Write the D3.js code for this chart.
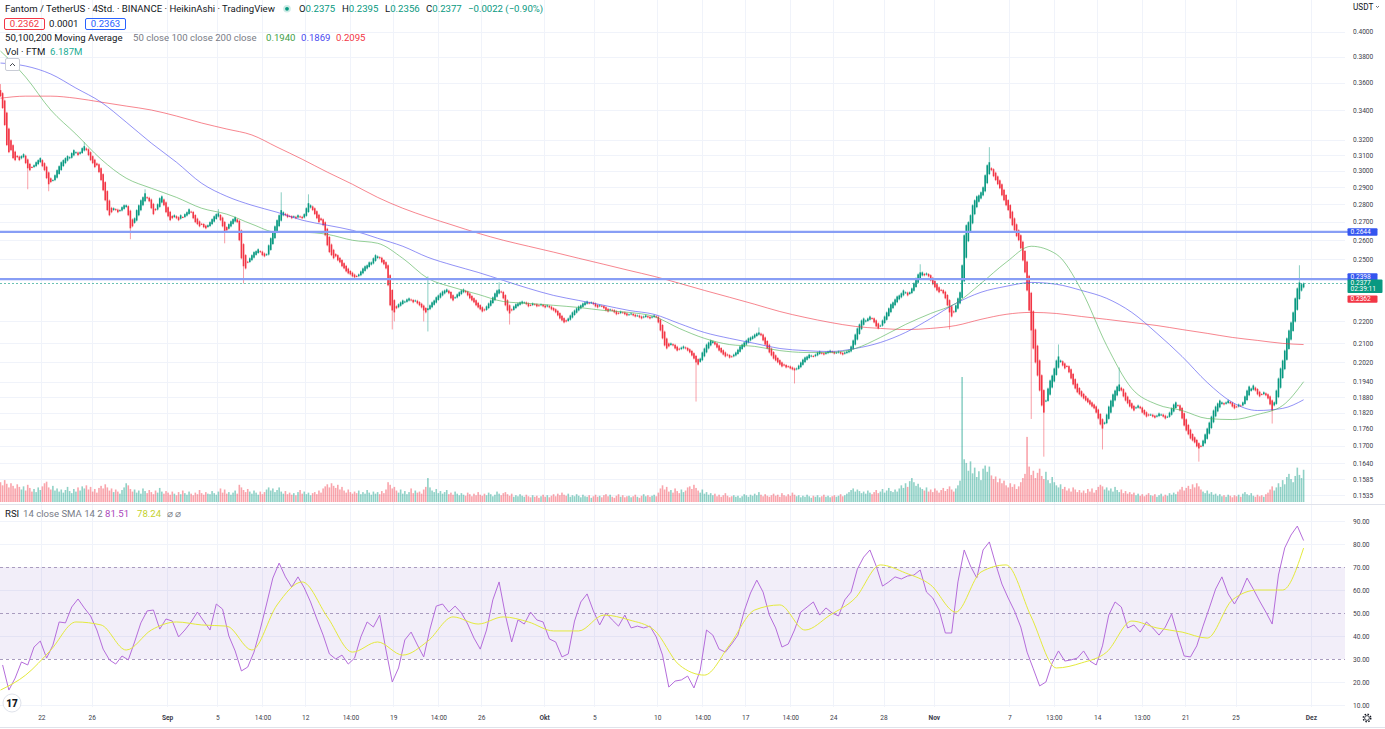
<!DOCTYPE html>
<html>
<head>
<meta charset="utf-8">
<script src="https://cdn.jsdelivr.net/npm/d3@7"></script>
<style>
	body { margin: 0; background: #fff; }
	svg { display: block; font-family: Roboto, "Noto Sans", sans-serif; }
</style>
</head>
<body>
<div id="chart"></div>
<script>
/* Heikin Ashi closes, one per 4h candle, first candle Aug 18 18:00 */
var firstOpen = 0.3545;
var closes = [
	0.3501,0.3416,0.3298,0.3164,0.3118,0.3131,0.3080,0.3067,0.3086,0.3067,
	0.3093,0.3105,0.3048,0.3016,0.3004,0.3023,0.3035,0.3054,0.3067,0.3080,
	0.3029,0.3004,0.2955,0.2918,0.2931,0.2943,0.2973,0.3004,0.3029,0.3054,
	0.3067,0.3080,0.3093,0.3086,0.3112,0.3131,0.3118,0.3099,0.3118,0.3144,
	0.3157,0.3131,0.3099,0.3067,0.3048,0.3023,0.3035,0.2992,0.2943,0.2882,
	0.2823,0.2766,0.2737,0.2754,0.2777,0.2766,0.2754,0.2766,0.2783,0.2794,
	0.2794,0.2737,0.2664,0.2675,0.2720,0.2766,0.2794,0.2823,0.2841,0.2864,
	0.2835,0.2817,0.2777,0.2743,0.2766,0.2800,0.2835,0.2846,0.2794,0.2754,
	0.2731,0.2709,0.2720,0.2737,0.2720,0.2709,0.2737,0.2726,0.2743,0.2754,
	0.2771,0.2754,0.2720,0.2698,0.2687,0.2675,0.2687,0.2670,0.2664,0.2681,
	0.2698,0.2715,0.2731,0.2743,0.2748,0.2709,0.2675,0.2642,0.2653,0.2687,
	0.2703,0.2715,0.2726,0.2698,0.2599,0.2504,0.2463,0.2452,0.2483,0.2504,
	0.2520,0.2536,0.2541,0.2551,0.2536,0.2520,0.2514,0.2525,0.2572,0.2610,
	0.2642,0.2675,0.2709,0.2737,0.2766,0.2754,0.2737,0.2726,0.2731,0.2720,
	0.2731,0.2720,0.2737,0.2726,0.2720,0.2743,0.2777,0.2806,0.2794,0.2766,
	0.2743,0.2720,0.2698,0.2709,0.2681,0.2626,0.2572,0.2536,0.2520,0.2504,
	0.2514,0.2493,0.2483,0.2463,0.2452,0.2437,0.2427,0.2422,0.2412,0.2407,
	0.2412,0.2422,0.2437,0.2452,0.2463,0.2468,0.2483,0.2483,0.2504,0.2520,
	0.2514,0.2504,0.2483,0.2473,0.2452,0.2368,0.2272,0.2248,0.2239,0.2258,
	0.2277,0.2286,0.2295,0.2290,0.2300,0.2305,0.2295,0.2286,0.2295,0.2281,
	0.2272,0.2262,0.2248,0.2239,0.2258,0.2272,0.2286,0.2295,0.2310,0.2319,
	0.2329,0.2338,0.2343,0.2348,0.2329,0.2305,0.2295,0.2310,0.2324,0.2334,
	0.2343,0.2348,0.2334,0.2319,0.2305,0.2295,0.2286,0.2272,0.2262,0.2253,
	0.2243,0.2248,0.2267,0.2281,0.2295,0.2310,0.2329,0.2343,0.2348,0.2334,
	0.2305,0.2272,0.2248,0.2234,0.2248,0.2267,0.2277,0.2281,0.2286,0.2290,
	0.2286,0.2277,0.2267,0.2272,0.2281,0.2277,0.2267,0.2272,0.2277,0.2267,
	0.2262,0.2272,0.2262,0.2253,0.2248,0.2239,0.2225,0.2211,0.2202,0.2193,
	0.2197,0.2211,0.2225,0.2239,0.2248,0.2258,0.2267,0.2272,0.2281,0.2286,
	0.2290,0.2281,0.2286,0.2277,0.2267,0.2262,0.2272,0.2267,0.2258,0.2248,
	0.2243,0.2253,0.2248,0.2239,0.2230,0.2234,0.2243,0.2239,0.2230,0.2225,
	0.2230,0.2234,0.2225,0.2220,0.2225,0.2216,0.2211,0.2220,0.2225,0.2216,
	0.2211,0.2220,0.2225,0.2216,0.2193,0.2157,0.2122,0.2091,0.2078,0.2087,
	0.2100,0.2091,0.2078,0.2069,0.2073,0.2082,0.2087,0.2078,0.2069,0.2061,
	0.2048,0.2035,0.2019,0.2010,0.2035,0.2061,0.2078,0.2095,0.2104,0.2113,
	0.2109,0.2095,0.2082,0.2069,0.2061,0.2052,0.2044,0.2048,0.2039,0.2044,
	0.2052,0.2061,0.2073,0.2087,0.2095,0.2104,0.2113,0.2122,0.2126,0.2131,
	0.2139,0.2144,0.2148,0.2135,0.2113,0.2095,0.2078,0.2061,0.2048,0.2035,
	0.2027,0.2019,0.2010,0.2002,0.2006,0.1998,0.2002,0.1994,0.1990,0.1986,
	0.1994,0.2006,0.2019,0.2031,0.2040,0.2044,0.2052,0.2048,0.2044,0.2052,
	0.2061,0.2065,0.2056,0.2052,0.2061,0.2065,0.2069,0.2061,0.2056,0.2061,
	0.2065,0.2056,0.2052,0.2061,0.2065,0.2069,0.2087,0.2113,0.2139,0.2166,
	0.2184,0.2202,0.2211,0.2202,0.2211,0.2220,0.2211,0.2193,0.2175,0.2166,
	0.2179,0.2202,0.2220,0.2239,0.2258,0.2277,0.2286,0.2300,0.2314,0.2319,
	0.2329,0.2343,0.2334,0.2319,0.2334,0.2353,0.2378,0.2402,0.2422,0.2432,
	0.2432,0.2417,0.2427,0.2412,0.2392,0.2373,0.2358,0.2343,0.2334,0.2343,
	0.2329,0.2305,0.2272,0.2239,0.2220,0.2239,0.2272,0.2305,0.2334,0.2468,
	0.2626,0.2681,0.2698,0.2737,0.2794,0.2823,0.2846,0.2852,0.2870,0.2900,
	0.2973,0.3035,0.3054,0.3004,0.2967,0.2943,0.2918,0.2894,0.2852,0.2823,
	0.2794,0.2766,0.2720,0.2681,0.2653,0.2621,0.2599,0.2556,0.2493,0.2432,
	0.2343,0.2248,0.2157,0.2078,0.2019,0.1965,0.1905,0.1847,0.1820,0.1866,
	0.1913,0.1945,0.1965,0.1994,0.2027,0.2044,0.2027,0.2006,0.1994,0.2002,
	0.1978,0.1953,0.1929,0.1913,0.1898,0.1890,0.1882,0.1874,0.1866,0.1859,
	0.1851,0.1843,0.1836,0.1820,0.1798,0.1776,0.1761,0.1783,0.1813,0.1843,
	0.1866,0.1890,0.1905,0.1921,0.1929,0.1905,0.1882,0.1866,0.1855,0.1843,
	0.1836,0.1828,0.1840,0.1847,0.1836,0.1820,0.1813,0.1805,0.1809,0.1813,
	0.1805,0.1801,0.1809,0.1817,0.1813,0.1805,0.1798,0.1805,0.1820,0.1836,
	0.1851,0.1859,0.1847,0.1828,0.1798,0.1772,0.1754,0.1740,0.1725,0.1718,
	0.1711,0.1697,0.1690,0.1697,0.1718,0.1740,0.1761,0.1783,0.1805,0.1828,
	0.1843,0.1855,0.1866,0.1859,0.1851,0.1859,0.1866,0.1855,0.1843,0.1836,
	0.1843,0.1851,0.1847,0.1859,0.1882,0.1905,0.1921,0.1913,0.1925,0.1905,
	0.1890,0.1882,0.1890,0.1898,0.1886,0.1874,0.1851,0.1828,0.1859,0.1905,
	0.1953,0.1994,0.2027,0.2069,0.2122,0.2157,0.2193,0.2239,0.2305,0.2353,
	0.2382,0.2373,0.2377
];

/* long wicks: [candle, high, low] */
var wicks = [
	[0, 0.3582, null], [13, null, 0.2894], [23, null, 0.2882], [40, 0.3177, null],
	[62, null, 0.2610], [69, 0.2882, null], [104, 0.2766, null], [107, null, 0.2588],
	[116, null, 0.2382], [134, 0.2864, null], [147, 0.2852, null], [187, null, 0.2166],
	[188, null, 0.2202], [202, null, 0.2202], [204, 0.2407, 0.2157], [238, 0.2378, null],
	[243, null, 0.2188], [332, null, 0.1866], [362, 0.2166, null], [379, null, 0.1937],
	[439, 0.2468, null], [453, null, 0.2166], [472, 0.3144, null], [492, null, 0.1800],
	[498, null, 0.1665], [505, 0.2091, null], [526, null, 0.1690], [534, 0.1994, null],
	[572, null, 0.1648], [607, null, 0.1783], [620, 0.2463, null]
];

/* volume in millions FTM */
var volumes = [
	3.8,3.2,4.2,3.5,2.8,3.6,3.1,2.6,3.4,2.9, 2.4,3.0,2.2,3.3,2.7,2.0,2.5,1.9,2.8,2.3,
	3.0,3.6,3.9,2.8,2.4,3.1,2.2,2.6,2.0,2.4, 1.8,2.3,2.9,2.1,1.7,2.5,2.0,2.8,2.2,3.0,
	2.6,3.2,2.4,2.9,2.0,2.5,1.8,2.7,3.1,2.6, 3.4,2.8,2.2,2.6,1.9,2.4,2.0,1.6,2.3,2.8,
	3.6,3.2,2.5,2.0,2.4,1.8,2.2,1.6,2.6,2.1, 1.7,2.3,1.9,1.5,2.2,1.8,2.7,2.0,1.6,2.1,
	1.8,1.4,2.0,1.6,1.3,1.9,1.5,2.2,1.7,1.4, 2.0,1.6,1.3,1.8,1.5,2.3,1.7,1.4,1.9,1.6,
	1.5,2.1,1.7,1.4,2.0,2.6,1.8,2.4,1.6,1.9, 1.4,1.8,2.2,1.6,3.3,2.8,2.3,1.9,2.5,2.0,
	1.6,2.2,1.8,1.4,2.0,1.5,1.9,2.4,2.8,2.2, 2.6,1.9,2.3,2.8,2.0,1.6,2.1,1.5,1.8,1.4,
	1.7,1.3,1.9,2.3,1.6,2.0,1.5,1.8,1.3,1.7, 1.9,1.5,2.2,1.8,2.6,3.0,3.4,2.8,3.6,3.1,
	2.7,3.3,2.4,2.9,2.2,1.8,2.4,1.9,1.6,2.0, 1.7,2.2,1.5,1.9,1.6,2.3,1.8,1.4,2.0,1.6,
	1.9,1.5,2.1,1.7,2.4,3.8,3.3,2.6,2.9,2.2, 1.8,2.4,1.6,2.1,1.5,1.9,2.6,1.7,2.2,1.8,
	2.0,1.6,2.4,2.9,4.6,2.8,2.2,1.9,2.5,1.7, 2.1,1.6,1.9,2.3,1.5,1.8,1.4,2.0,1.6,1.3,
	1.7,1.4,1.2,1.8,1.5,1.1,1.6,1.3,1.9,1.4, 1.2,1.6,1.3,1.8,1.5,1.1,1.4,2.0,1.6,1.3,
	1.7,1.9,1.5,1.2,1.6,1.0,1.3,1.1,1.5,1.2, 1.0,1.4,1.1,0.9,1.3,1.0,1.2,0.8,1.1,1.4,
	1.0,1.3,0.9,1.2,1.5,1.1,1.6,1.3,1.8,1.4, 1.2,1.6,1.0,1.3,1.1,1.5,1.2,0.9,1.4,1.1,
	1.0,1.3,0.8,1.1,1.4,1.0,1.2,0.9,1.3,1.5, 1.1,1.4,1.0,0.8,1.2,1.5,1.0,1.3,0.9,1.1,
	1.2,0.9,1.1,1.4,1.0,0.8,1.2,1.5,1.1,1.3, 1.0,1.2,1.4,1.1,1.8,2.6,3.2,2.4,2.9,2.0,
	2.3,1.8,2.6,2.1,1.7,2.4,1.9,2.2,2.8,3.0, 2.5,3.3,2.7,2.2,1.8,2.4,1.6,1.9,1.4,1.7,
	1.3,1.6,1.1,1.4,1.0,1.3,1.7,1.2,0.9,1.1, 1.3,1.0,1.2,0.8,1.1,1.5,1.3,1.0,1.4,1.2,
	1.6,1.3,1.9,1.4,1.1,1.5,1.2,1.0,1.3,1.6, 1.2,1.4,1.0,1.7,1.3,1.1,1.5,1.2,1.8,1.4,
	1.1,1.3,0.9,1.2,1.0,1.4,1.1,0.8,1.2,1.0, 1.3,0.9,1.1,1.4,1.0,1.2,0.9,1.1,1.3,1.0,
	1.2,1.5,1.1,1.3,1.6,1.9,2.3,2.6,2.0,2.4, 2.1,1.7,2.0,1.6,2.2,1.8,1.5,1.9,2.3,1.7,
	2.0,2.5,1.8,2.2,2.7,2.1,1.9,2.4,2.0,2.6, 3.2,2.7,3.6,2.9,4.0,4.6,3.8,3.1,3.5,2.8,
	2.5,2.2,2.8,2.0,2.4,1.9,2.6,2.2,1.8,2.3, 2.7,2.1,2.5,3.0,2.4,2.0,2.6,3.2,4.1,24.0,
	8.2,7.5,6.0,7.8,5.5,6.6,4.8,5.9,4.2,6.4, 7.0,5.8,6.8,5.1,4.4,4.9,3.8,4.5,3.6,4.1,
	3.2,2.8,3.6,2.9,3.4,2.5,3.0,3.8,4.6,5.4, 12.5,6.8,5.2,6.0,4.6,5.6,6.4,5.0,4.4,5.8,
	4.2,3.6,4.8,3.8,3.2,2.8,3.4,2.5,2.9,2.2, 2.6,2.0,2.8,2.4,1.9,2.3,1.8,2.2,1.7,2.5,
	2.0,2.6,1.8,2.3,2.9,3.3,3.0,2.4,2.8,2.2, 2.6,2.0,2.9,2.3,1.9,2.4,1.7,2.1,1.6,1.9,
	1.5,1.8,1.3,1.6,1.2,1.5,1.1,1.4,1.7,1.3, 1.2,1.5,1.0,1.3,1.6,1.1,1.4,1.2,1.7,1.4,
	1.8,1.5,2.0,2.4,2.9,2.2,2.7,3.1,2.5,3.4, 2.8,3.6,3.0,2.4,2.0,1.7,2.2,1.6,1.9,1.4,
	1.6,1.2,1.5,1.1,1.3,1.0,1.4,1.2,0.9,1.3, 1.1,1.4,1.0,1.6,1.9,1.5,1.3,1.7,1.2,1.0,
	1.4,1.1,1.3,1.0,1.5,1.8,2.4,3.0,2.2,2.8, 3.6,2.9,4.2,3.4,4.8,5.4,4.4,3.8,5.0,6.6,
	5.2,4.6,6.187
];

/* moving averages, read every 12 candles */
var maIndex = [0,12,24,36,48,60,72,84,96,108,120,132,144,156,168,180,192,204,216,228,240,252,264,276,288,300,
	312,324,336,348,360,372,384,396,408,420,432,444,456,468,480,492,504,516,528,540,552,564,576,588,600,612,622];
var ma50 = [0.3843,0.3642,0.3402,0.3237,0.3073,0.2955,0.2894,0.2840,0.2777,0.2743,0.2687,0.2642,0.2642,0.2631,
	0.2599,0.2583,0.2504,0.2402,0.2358,0.2324,0.2290,0.2281,0.2272,0.2262,0.2248,0.2239,0.2220,0.2166,0.2122,
	0.2095,0.2087,0.2069,0.2061,0.2061,0.2078,0.2126,0.2184,0.2234,0.2281,0.2377,0.2483,0.2567,0.2525,0.2343,
	0.2091,0.1913,0.1851,0.1828,0.1798,0.1794,0.1813,0.1847,0.1940];
var ma100 = [0.3749,0.3726,0.3665,0.3560,0.3458,0.3318,0.3177,0.3054,0.2924,0.2846,0.2794,0.2754,0.2709,0.2681,
	0.2653,0.2610,0.2567,0.2509,0.2468,0.2432,0.2392,0.2353,0.2319,0.2295,0.2272,0.2248,0.2230,0.2188,0.2148,
	0.2122,0.2100,0.2078,0.2069,0.2065,0.2078,0.2104,0.2148,0.2211,0.2281,0.2334,0.2363,0.2382,0.2373,0.2343,
	0.2305,0.2239,0.2144,0.2044,0.1937,0.1859,0.1828,0.1836,0.1869];
var ma200 = [0.3486,0.3501,0.3501,0.3486,0.3458,0.3430,0.3402,0.3360,0.3312,0.3271,0.3231,0.3151,0.3073,0.2992,
	0.2918,0.2840,0.2777,0.2726,0.2681,0.2637,0.2599,0.2567,0.2536,0.2504,0.2473,0.2442,0.2412,0.2378,0.2343,
	0.2310,0.2277,0.2243,0.2216,0.2193,0.2175,0.2166,0.2161,0.2166,0.2179,0.2207,0.2230,0.2239,0.2234,0.2220,
	0.2207,0.2193,0.2179,0.2161,0.2144,0.2126,0.2113,0.2100,0.2095];
var rsiSma = [16.5,23,33.9,46.1,44.8,33.9,42.6,46.1,44.8,44.3,33.9,53.5,63.5,48.3,33,37.4,31.7,37.8,48.3,45.2,
	48.3,46.1,42.2,42.2,49.1,47,42.6,27.4,23,36.1,51.3,53.5,42.6,49.1,56.5,70.9,67.4,62.2,50.4,67.8,
	70.9,48.3,26.1,28.3,33,46.5,43.5,41.7,39.1,55.7,60,60,78.24];

/* RSI 14, read every 3rd candle starting at candle 1 */
var rsi = [
	27.4,16.5,21.7,28.7,27.4,35.2,37.8,30.4,36,46.1, 45.7,52.6,56.1,52.2,48.7,42.6,34.3,29.6,27.8,31.3,
	29.6,37.4,45.7,50.9,51.3,43,47.4,46.5,39.6,42.6, 46.1,50.4,46.5,42.6,53.9,51.7,40,33.5,24.8,26.5,
	33,43,53.9,65.2,71.7,65.7,61.3,65.7,60.9,54.8, 47.4,40.4,32.2,30,31.7,27.8,30.4,39.6,46.1,43.9,
	49.1,33.9,20,26.1,38.3,41.7,36.1,30.9,43,53, 53.9,50.4,53,50,45.2,39.1,34.3,42.6,55.7,63.5,
	49.1,37.4,47,45.2,50.4,47,46.1,38.7,37.4,30.9, 32.2,46.5,54.8,58.3,50.9,44.8,50,47,44.3,49.1,
	43.5,44.3,43.5,44.3,39.6,31.7,17.8,20.4,20.9,22.6, 17.4,25.2,42.6,40.4,34.3,33,36.5,40.4,50.9,58.7,
	64.3,59.1,49.1,43.5,35.2,36.5,42.6,50.4,52.6,54.8, 49.1,52.2,50,48.7,55.7,59.1,69.1,74.3,77.4,70.4,
	61.7,63.5,65.7,64.8,66.1,66.5,68.7,59.1,56.5,51.3, 41.3,41.3,63.5,77.4,70.4,65.2,77.4,80.9,71.3,62.6,
	56.5,50.9,43.9,33,25.7,18.3,20,28.3,33.5,29.1, 29.6,30.4,33.5,29.1,27.4,35.7,49.1,54.8,52.6,43.5,
	44.8,41.7,46.1,43.5,40.4,43.9,49.6,40,31.3,30.9, 35.7,44.3,52.2,60.4,65.7,58.3,53.9,58.7,65.2,60.4,
	55.2,50.4,45.2,66.5,78.3,83.9,87.8,81.51
];

/* axis ticks */
var priceTicks = [0.4, 0.38, 0.36, 0.34, 0.32, 0.31, 0.30, 0.29, 0.28, 0.27, 0.26, 0.25,
	0.22, 0.21, 0.202, 0.194, 0.188, 0.182, 0.176, 0.17, 0.164, 0.1585, 0.1535];
var rsiTicks = [90, 80, 70, 60, 50, 40, 30, 20, 10];
var timeTicks = [
	{t: Date.UTC(2023,7,22), label: "22"}, {t: Date.UTC(2023,7,26), label: "26"},
	{t: Date.UTC(2023,8,1), label: "Sep", bold: true}, {t: Date.UTC(2023,8,5), label: "5"},
	{t: Date.UTC(2023,8,8,14), label: "14:00"}, {t: Date.UTC(2023,8,12), label: "12"},
	{t: Date.UTC(2023,8,15,14), label: "14:00"}, {t: Date.UTC(2023,8,19), label: "19"},
	{t: Date.UTC(2023,8,22,14), label: "14:00"}, {t: Date.UTC(2023,8,26), label: "26"},
	{t: Date.UTC(2023,9,1), label: "Okt", bold: true}, {t: Date.UTC(2023,9,5), label: "5"},
	{t: Date.UTC(2023,9,10), label: "10"}, {t: Date.UTC(2023,9,13,14), label: "14:00"},
	{t: Date.UTC(2023,9,17), label: "17"}, {t: Date.UTC(2023,9,20,14), label: "14:00"},
	{t: Date.UTC(2023,9,24), label: "24"}, {t: Date.UTC(2023,9,28), label: "28"},
	{t: Date.UTC(2023,10,1), label: "Nov", bold: true}, {t: Date.UTC(2023,10,7), label: "7"},
	{t: Date.UTC(2023,10,10,13), label: "13:00"}, {t: Date.UTC(2023,10,14), label: "14"},
	{t: Date.UTC(2023,10,17,13), label: "13:00"}, {t: Date.UTC(2023,10,21), label: "21"},
	{t: Date.UTC(2023,10,25), label: "25"}, {t: Date.UTC(2023,11,1), label: "Dez", bold: true}
];

/* levels */
var hLines = [0.2644, 0.2398];
var lastPrice = 0.2377, bidPrice = 0.2362;

/* size of the graphic */
var width = 1385, height = 729;
var plotRight = 1345;
var up = "#089981", down = "#f23645", textDark = "#131722", textGray = "#787b86";
var axisFont = 6.6, legendFont = 9.6;

var svg = d3.select("#chart").append("svg")
	.attr("width", width)
	.attr("height", height);

/* scales */
var t0 = Date.UTC(2023, 7, 18, 18);
function candleTime(i) { return new Date(t0 + i * 4 * 3600 * 1000); }
var x = d3.scaleUtc().domain([candleTime(0), candleTime(622)]).range([0.5, 1303.6]);
var y = d3.scaleLog().domain([0.1535, 0.4]).range([495, 31.7]);
var yVol = d3.scaleLinear().domain([0, 24]).range([502, 377]);
var yRsi = d3.scaleLinear().domain([10, 90]).range([705, 521]);

/* heikin ashi candles */
var candles = [];
closes.forEach(function(c, i) {
	var o = i === 0 ? firstOpen : (candles[i-1].open + candles[i-1].close) / 2;
	candles.push({i: i, t: candleTime(i), open: o, close: c,
		high: Math.max(o, c), low: Math.min(o, c), vol: volumes[i]});
});
wicks.forEach(function(w) {
	var d = candles[w[0]];
	if (w[1]) d.high = Math.max(d.high, w[1]);
	if (w[2]) d.low = Math.min(d.low, w[2]);
});
function colorOf(d) { return d.close >= d.open ? up : down; }

var defs = svg.append("defs");
defs.append("clipPath").attr("id", "clipPrice").append("rect")
	.attr("x", 0).attr("y", 0).attr("width", plotRight).attr("height", 503);
defs.append("clipPath").attr("id", "clipRsi").append("rect")
	.attr("x", 0).attr("y", 505).attr("width", plotRight).attr("height", 202);

/* grid */
var grid = svg.append("g").attr("stroke", "#f0f3fa").attr("stroke-width", 1);
grid.selectAll("line.v").data(timeTicks).enter().append("line")
	.attr("x1", function(d) { return Math.round(x(d.t)) + 0.5; })
	.attr("x2", function(d) { return Math.round(x(d.t)) + 0.5; })
	.attr("y1", 0).attr("y2", 707);
grid.selectAll("line.h").data(priceTicks).enter().append("line")
	.attr("x1", 0).attr("x2", plotRight)
	.attr("y1", function(d) { return Math.round(y(d)) + 0.5; })
	.attr("y2", function(d) { return Math.round(y(d)) + 0.5; });
grid.selectAll("line.r").data([90, 80, 60, 40, 20, 10]).enter().append("line")
	.attr("x1", 0).attr("x2", plotRight)
	.attr("y1", function(d) { return Math.round(yRsi(d)) + 0.5; })
	.attr("y2", function(d) { return Math.round(yRsi(d)) + 0.5; });

/* volume */
svg.append("g").attr("clip-path", "url(#clipPrice)")
	.selectAll("rect").data(candles).enter().append("rect")
	.attr("x", function(d) { return x(d.t) - 0.8; })
	.attr("width", 1.6)
	.attr("y", function(d) { return yVol(d.vol); })
	.attr("height", function(d) { return yVol(0) - yVol(d.vol); })
	.attr("fill", colorOf)
	.attr("opacity", 0.45);

/* candles */
var cg = svg.append("g").attr("clip-path", "url(#clipPrice)");
cg.selectAll("line").data(candles).enter().append("line")
	.attr("x1", function(d) { return x(d.t); })
	.attr("x2", function(d) { return x(d.t); })
	.attr("y1", function(d) { return y(d.high) - 1; })
	.attr("y2", function(d) { return y(d.low) + 1; })
	.attr("stroke", colorOf)
	.attr("stroke-opacity", 0.6)
	.attr("stroke-width", 0.8);
cg.selectAll("rect").data(candles).enter().append("rect")
	.attr("x", function(d) { return x(d.t) - 0.8; })
	.attr("width", 1.6)
	.attr("y", function(d) { return y(Math.max(d.open, d.close)); })
	.attr("height", function(d) { return Math.max(1, Math.abs(y(d.open) - y(d.close))); })
	.attr("fill", colorOf);

/* moving averages */
var maLine = d3.line()
	.x(function(d) { return x(candleTime(d[0])); })
	.y(function(d) { return y(d[1]); })
	.curve(d3.curveMonotoneX);
[[ma200, "#f23645"], [ma100, "#4a4af0"], [ma50, "#4caf50"]].forEach(function(m) {
	cg.append("path")
		.attr("d", maLine(maIndex.map(function(k, j) { return [k, m[0][j]]; })))
		.attr("fill", "none")
		.attr("stroke", m[1])
		.attr("stroke-opacity", 0.6)
		.attr("stroke-width", 1);
});

/* horizontal levels and last price */
svg.selectAll("line.level").data(hLines).enter().append("line")
	.attr("x1", 0).attr("x2", 1348)
	.attr("y1", function(d) { return y(d); })
	.attr("y2", function(d) { return y(d); })
	.attr("stroke", "#889ef5")
	.attr("stroke-width", 2.2);
svg.append("line")
	.attr("x1", 0).attr("x2", 1348)
	.attr("y1", Math.round(y(lastPrice)) + 0.5).attr("y2", Math.round(y(lastPrice)) + 0.5)
	.attr("stroke", up).attr("stroke-opacity", 0.6)
	.style("stroke-dasharray", ("2, 2"));

/* pane borders */
svg.append("line").attr("x1", 0).attr("x2", width).attr("y1", 504.5).attr("y2", 504.5).attr("stroke", "#e0e3eb");
svg.append("line").attr("x1", 0).attr("x2", width).attr("y1", 727.5).attr("y2", 727.5).attr("stroke", "#e0e3eb");

/* RSI pane */
svg.append("rect")
	.attr("x", 0).attr("width", plotRight)
	.attr("y", yRsi(70)).attr("height", yRsi(30) - yRsi(70))
	.attr("fill", "#7e57c2").attr("fill-opacity", 0.1);
svg.selectAll("line.band").data([70, 50, 30]).enter().append("line")
	.attr("x1", 0).attr("x2", plotRight)
	.attr("y1", function(d) { return Math.round(yRsi(d)) + 0.5; })
	.attr("y2", function(d) { return Math.round(yRsi(d)) + 0.5; })
	.attr("stroke", "#a99cbf")
	.style("stroke-dasharray", ("3, 3"));
var rg = svg.append("g").attr("clip-path", "url(#clipRsi)");
rg.append("path")
	.attr("d", d3.line()
		.x(function(d, k) { return x(candleTime(1 + 3 * k)); })
		.y(function(d) { return yRsi(d); })(rsi))
	.attr("fill", "none").attr("stroke", "#b56ddb").attr("stroke-width", 1);
rg.append("path")
	.attr("d", d3.line()
		.x(function(d, j) { return x(candleTime(maIndex[j])); })
		.y(function(d) { return yRsi(d); })
		.curve(d3.curveMonotoneX)(rsiSma))
	.attr("fill", "none").attr("stroke", "#e4ea3c").attr("stroke-width", 1);

/* right axes */
var priceAxis = svg.append("g")
	.attr("transform", "translate(1353,0)")
	.call(d3.axisRight(y).tickValues(priceTicks).tickFormat(d3.format(".4f")).tickSize(0).tickPadding(0));
var rsiAxis = svg.append("g")
	.attr("transform", "translate(1353,0)")
	.call(d3.axisRight(yRsi).tickValues(rsiTicks).tickFormat(d3.format(".2f")).tickSize(0).tickPadding(0));
var timeAxis = svg.append("g")
	.attr("transform", "translate(0,715)")
	.call(d3.axisBottom(x).tickValues(timeTicks.map(function(d) { return new Date(d.t); }))
		.tickFormat(function(d, i) { return timeTicks[i].label; }).tickSize(0).tickPadding(0));
[priceAxis, rsiAxis, timeAxis].forEach(function(a) {
	a.select(".domain").remove();
	a.attr("font-family", null).attr("font-size", null);
	a.selectAll("text").attr("font-size", axisFont).attr("fill", "#3d404b");
});
timeAxis.selectAll("text").attr("font-weight", function(d, i) { return timeTicks[i].bold ? 700 : 400; });

/* axis price labels */
function axisLabel(fill, yTop, h, lines) {
	svg.append("rect").attr("x", 1347.5).attr("y", yTop).attr("width", lines[0].w).attr("height", h)
		.attr("rx", 1).attr("fill", fill);
	lines.forEach(function(l, k) {
		svg.append("text").attr("x", 1350.5).attr("y", yTop + 5.6 + k * 6.2)
			.attr("font-size", axisFont).attr("fill", "#fff").text(l.text);
	});
}
axisLabel("#3455f0", y(0.2644) - 3.8, 7.6, [{text: "0.2644", w: 30}]);
axisLabel("#3455f0", y(0.2398) - 6, 7.6, [{text: "0.2398", w: 30}]);
axisLabel(up, y(lastPrice) - 4, 13.6, [{text: "0.2377", w: 35}, {text: "02:39:11"}]);
axisLabel(down, 295.6, 7.2, [{text: "0.2362", w: 30}]);

/* top right currency */
svg.append("text").attr("x", 1353).attr("y", 10).attr("font-size", 8.2).attr("fill", textDark).text("USDT");
svg.append("path").attr("d", "M1376,6 l1.5,1.5 l1.5,-1.5").attr("fill", "none").attr("stroke", textDark).attr("stroke-width", 0.6);

/* legend */
var lg = svg.append("g").attr("font-size", legendFont).attr("fill", textDark);
lg.append("text").attr("x", 5).attr("y", 12)
	.text("Fantom / TetherUS \u00b7 4Std. \u00b7 BINANCE \u00b7 HeikinAshi \u00b7 TradingView");
lg.append("circle").attr("cx", 287).attr("cy", 8.8).attr("r", 3.8).attr("fill", up).attr("fill-opacity", 0.2);
lg.append("circle").attr("cx", 287).attr("cy", 8.8).attr("r", 1.9).attr("fill", up);
[["O", "0.2375", 299], ["H", "0.2395", 342], ["L", "0.2356", 385], ["C", "0.2377", 426], ["", "\u22120.0022 (\u22120.90%)", 468]].forEach(function(p) {
	var t = lg.append("text").attr("x", p[2]).attr("y", 12);
	t.append("tspan").attr("fill", textDark).text(p[0]);
	t.append("tspan").attr("fill", up).text(p[1]);
});

lg.append("rect").attr("x", 4.5).attr("y", 18.5).attr("width", 40).attr("height", 11).attr("rx", 1.5)
	.attr("fill", "none").attr("stroke", down);
lg.append("text").attr("x", 24.5).attr("y", 27.4).attr("text-anchor", "middle").attr("fill", down).text("0.2362");
lg.append("text").attr("x", 49).attr("y", 27.4).text("0.0001");
lg.append("rect").attr("x", 85.5).attr("y", 18.5).attr("width", 40).attr("height", 11).attr("rx", 1.5)
	.attr("fill", "none").attr("stroke", "#2962ff");
lg.append("text").attr("x", 105.5).attr("y", 27.4).attr("text-anchor", "middle").attr("fill", "#2962ff").text("0.2363");

[["50,100,200 Moving Average", textDark, 5], ["50 close 100 close 200 close", textGray, 133],
 ["0.1940", "#43a047", 266], ["0.1869", "#4a4af0", 301], ["0.2095", down, 336]].forEach(function(p) {
	lg.append("text").attr("x", p[2]).attr("y", 41).attr("fill", p[1]).text(p[0]);
});
[["Vol \u00b7 FTM", textDark, 5], ["6.187M", "#22ab94", 50]].forEach(function(p) {
	lg.append("text").attr("x", p[2]).attr("y", 54.5).attr("fill", p[1]).text(p[0]);
});

lg.append("rect").attr("x", 5.5).attr("y", 58.5).attr("width", 14).attr("height", 12).attr("rx", 1.5)
	.attr("fill", "#fff").attr("stroke", "#c9ccd6");
lg.append("path").attr("d", "M10,66 l2.5,-2.5 l2.5,2.5").attr("fill", "none").attr("stroke", textDark).attr("stroke-width", 0.8);

[["RSI", textDark, 5], ["14 close SMA 14 2", textGray, 23], ["81.51", "#ab47bc", 105],
 ["78.24", "#c4d12a", 137], ["\u2300 \u2300", textGray, 167]].forEach(function(p) {
	lg.append("text").attr("x", p[2]).attr("y", 517).attr("fill", p[1]).text(p[0]);
});

/* corner marks */
svg.append("circle").attr("cx", 12).attr("cy", 703).attr("r", 9).attr("fill", "#fff").attr("stroke", "#e0e3eb");
svg.append("text").attr("x", 12).attr("y", 707).attr("text-anchor", "middle").attr("font-size", 10)
	.attr("font-weight", 900).attr("fill", textDark).text("17");
svg.append("circle").attr("cx", 1367).attr("cy", 718).attr("r", 2.4).attr("fill", "none").attr("stroke", textDark).attr("stroke-width", 0.8);
svg.append("circle").attr("cx", 1367).attr("cy", 718).attr("r", 3.8).attr("fill", "none").attr("stroke", textDark)
	.attr("stroke-width", 1.4).style("stroke-dasharray", ("1.5, 1.5"));
</script>
</body>
</html>
